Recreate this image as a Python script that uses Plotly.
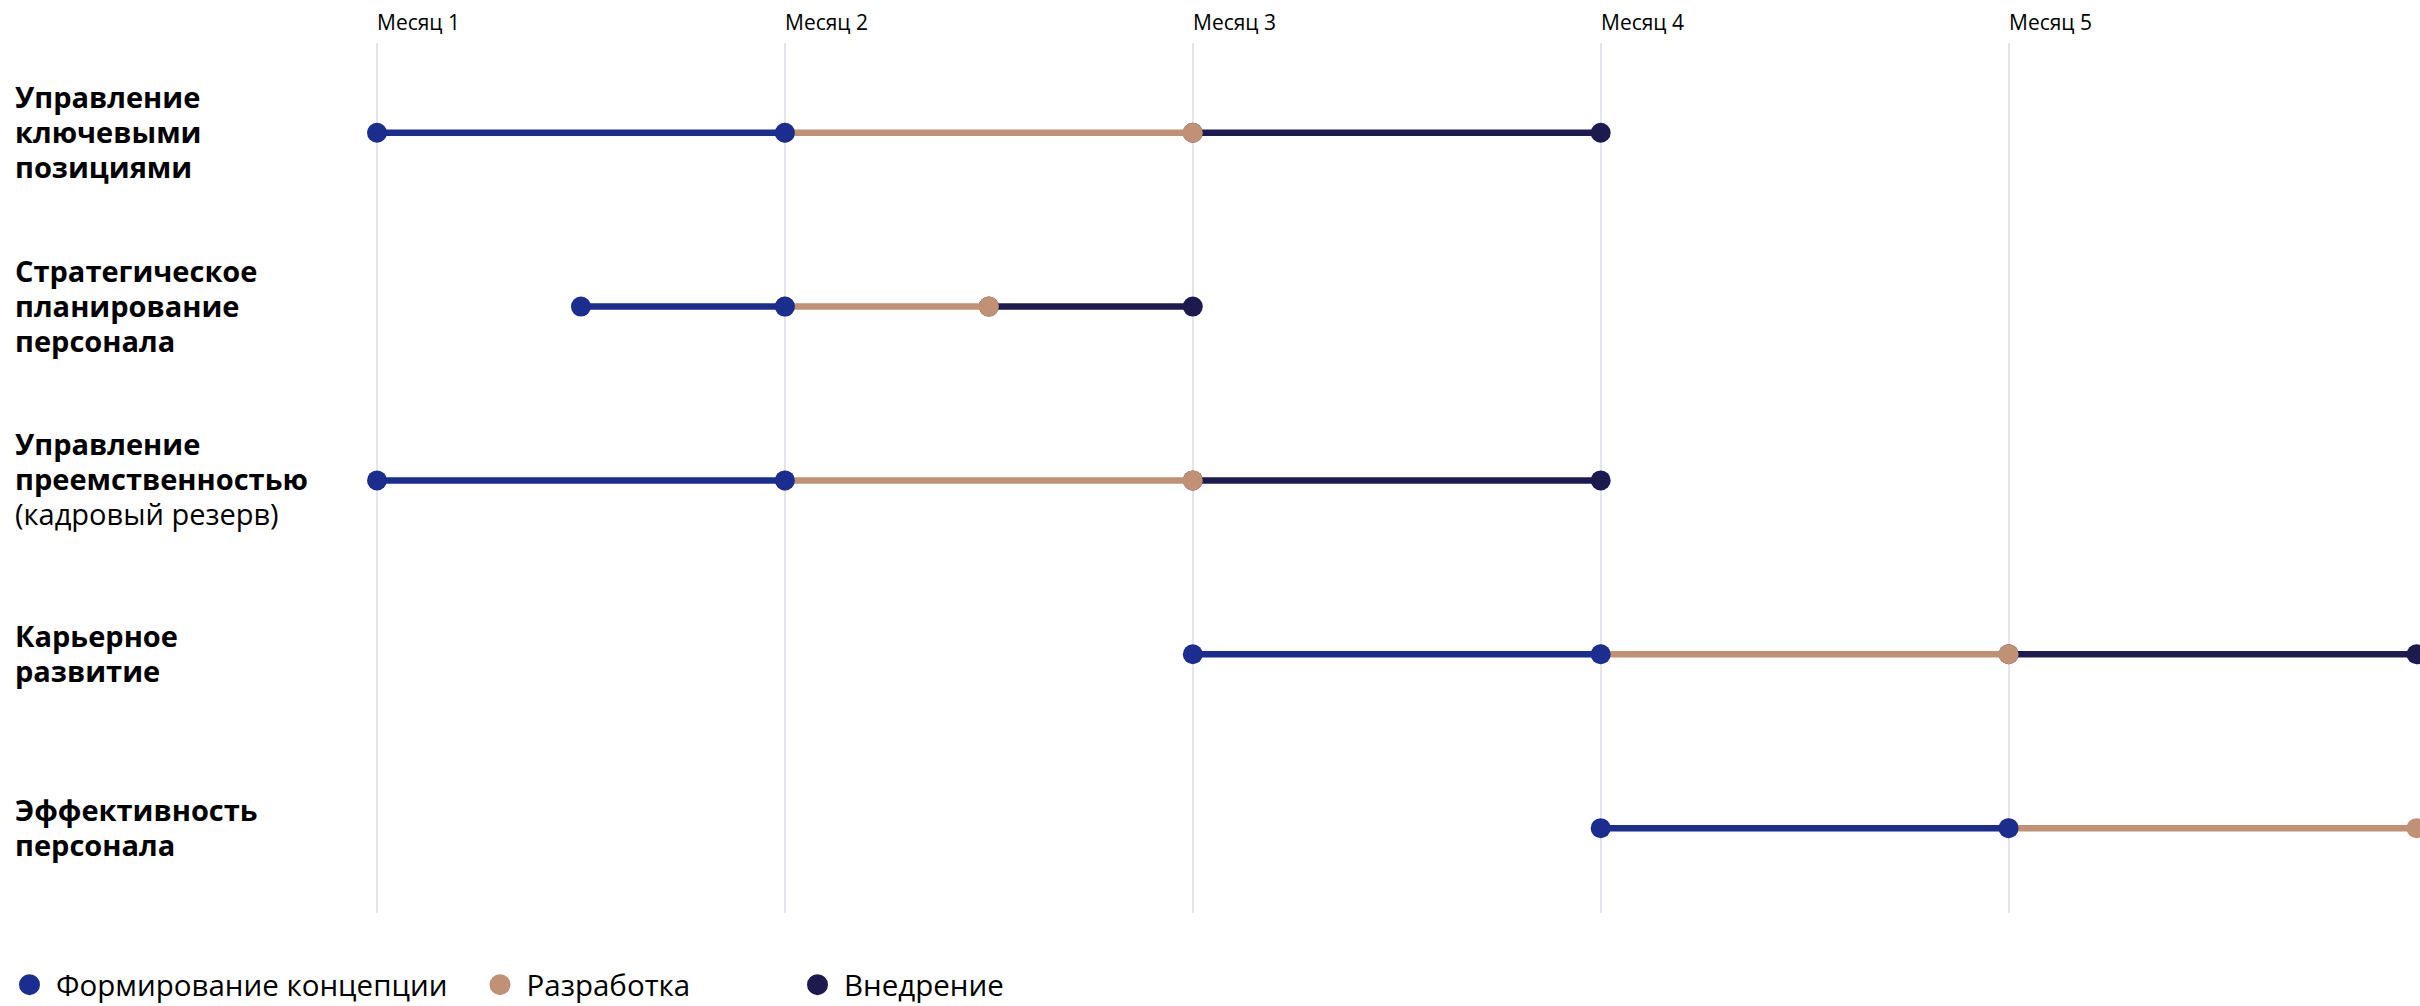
import plotly.graph_objects as go

# Initiatives (top to bottom) and how each name is broken into lines
categories = [
    "Управление ключевыми позициями",
    "Стратегическое планирование персонала",
    "Управление преемственностью (кадровый резерв)",
    "Карьерное развитие",
    "Эффективность персонала",
]
label_lines = [
    [("Управление", True), ("ключевыми", True), ("позициями", True)],
    [("Стратегическое", True), ("планирование", True), ("персонала", True)],
    [("Управление", True), ("преемственностью", True), ("(кадровый резерв)", False)],
    [("Карьерное", True), ("развитие", True)],
    [("Эффективность", True), ("персонала", True)],
]

# Phase boundaries in months
concept_start = [1, 1.5, 1, 3, 4]
concept_end = [2, 2, 2, 4, 5]
dev_end = [3, 2.5, 3, 5, 6]
impl_end = [4, 3, 4, 6, None]

month_vals = [1, 2, 3, 4, 5]
month_labels = ["Месяц 1", "Месяц 2", "Месяц 3", "Месяц 4", "Месяц 5"]

phase_names = ["Формирование концепции", "Разработка", "Внедрение"]
phase_colors = ["#1b2d8f", "#c09174", "#1c1a4f"]

W, H = 2420, 1006
M_L, M_R, M_T, M_B = 375, 0, 43, 93
plot_w = W - M_L - M_R
plot_h = H - M_T - M_B
px_per_month = 407.9
x_min = 1 - 2 / px_per_month
x_max = x_min + plot_w / px_per_month

FONT = "Open Sans"


def segments(starts, ends):
    xs, ys = [], []
    for cat, s, e in zip(categories, starts, ends):
        if s is None or e is None:
            continue
        xs += [s, e, None]
        ys += [cat, cat, None]
    return xs, ys


phase_bounds = [
    (concept_start, concept_end),
    (concept_end, dev_end),
    (dev_end, impl_end),
]

fig = go.Figure()

# Later phases go underneath so each phase's end dot stays on top at joins
for i in reversed(range(3)):
    xs, ys = segments(*phase_bounds[i])
    fig.add_trace(go.Scatter(
        x=xs, y=ys, mode="lines+markers",
        line=dict(color=phase_colors[i], width=6.5),
        marker=dict(color=phase_colors[i], size=20),
        cliponaxis=False, showlegend=False, hoverinfo="skip",
    ))

# Legend entries, one per legend so each can sit at its own spot
legend_px = [29.5, 500, 817.5]
legend_ids = ["legend", "legend2", "legend3"]
for i in range(3):
    fig.add_trace(go.Scatter(
        x=[None], y=[None], mode="markers", name=phase_names[i],
        marker=dict(color=phase_colors[i], size=16,
                    line=dict(color=phase_colors[i], width=5)),
        legend=legend_ids[i], showlegend=True,
    ))

legend_cfg = {}
for i, lid in enumerate(legend_ids):
    legend_cfg[lid] = dict(
        x=(legend_px[i] - 26.5 - M_L) / plot_w, xanchor="left",
        y=(plot_h + M_T - 985) / plot_h, yanchor="middle",
        orientation="h", itemwidth=43, bgcolor="rgba(0,0,0,0)",
        font=dict(family=FONT, size=29.5, color="#000000"),
    )

annotations = []
# Month headers, left-aligned on their gridlines
for v, t in zip(month_vals, month_labels):
    annotations.append(dict(
        x=v, xref="x", xanchor="left", xshift=-2,
        y=(plot_h + M_T - 22) / plot_h, yref="paper", yanchor="middle",
        text=t, showarrow=False,
        font=dict(family=FONT, size=21, color="#000000"),
    ))

# Initiative names, one annotation per line, centred on the row
line_step = 35
for cat, lines in zip(categories, label_lines):
    n = len(lines)
    for j, (txt, bold) in enumerate(lines):
        annotations.append(dict(
            x=(13 - M_L) / plot_w, xref="paper", xanchor="left",
            y=cat, yref="y", yanchor="middle",
            yshift=((n - 1) / 2 - j) * line_step + 1.5,
            text=txt, showarrow=False, align="left",
            font=dict(family=FONT, size=29, color="#000000",
                      weight=700 if bold else 400),
        ))

fig.update_layout(
    width=W, height=H,
    margin=dict(l=M_L, r=M_R, t=M_T, b=M_B, pad=0, autoexpand=False),
    paper_bgcolor="white", plot_bgcolor="white",
    font=dict(family=FONT, color="#000000"),
    xaxis=dict(
        range=[x_min, x_max], tickvals=month_vals, showticklabels=False,
        showgrid=True, gridcolor="#e3e5ea", gridwidth=2,
        zeroline=False, showline=False, ticks="", fixedrange=True,
    ),
    yaxis=dict(
        type="category", categoryorder="array", categoryarray=categories,
        range=[4.488, -0.516], showticklabels=False, showgrid=False,
        zeroline=False, showline=False, ticks="", fixedrange=True,
    ),
    annotations=annotations,
    hovermode=False,
    **legend_cfg,
)

fig.write_html("out.html")
